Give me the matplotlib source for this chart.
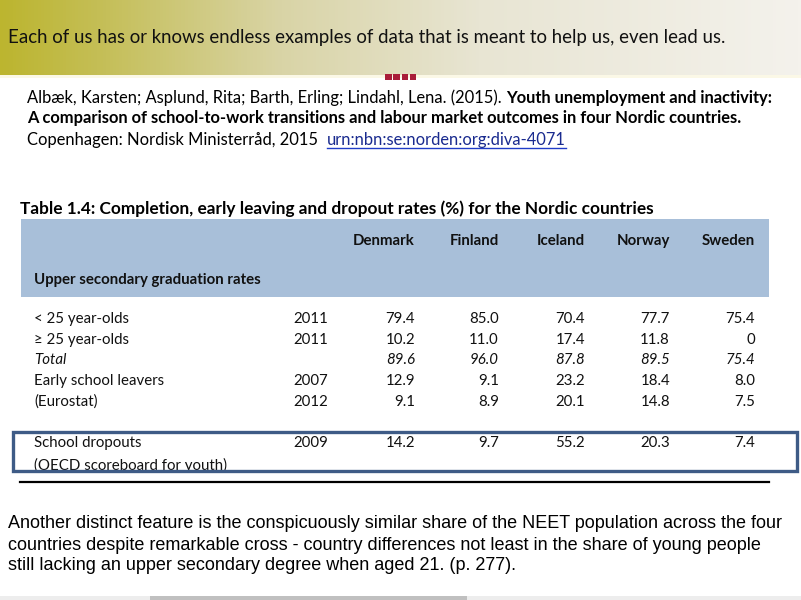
import numpy as np
import matplotlib.pyplot as plt
from matplotlib.colors import LinearSegmentedColormap
from matplotlib.patches import Rectangle

# table data
countries = ["Denmark", "Finland", "Iceland", "Norway", "Sweden"]
under_25 = [79.4, 85.0, 70.4, 77.7, 75.4]
over_25 = [10.2, 11.0, 17.4, 11.8, 0]
total = [89.6, 96.0, 87.8, 89.5, 75.4]
early_2007 = [12.9, 9.1, 23.2, 18.4, 8.0]
early_2012 = [9.1, 8.9, 20.1, 14.8, 7.5]
dropouts_2009 = [14.2, 9.7, 55.2, 20.3, 7.4]

row_labels = ["< 25 year-olds", "≥ 25 year-olds", "Total", "Early school leavers",
              "(Eurostat)", "School dropouts", "(OECD scoreboard for youth)"]
row_years = ["2011", "2011", "", "2007", "2012", "2009", ""]
row_values = [under_25, over_25, total, early_2007, early_2012, dropouts_2009, None]

headline = "Each of us has or knows endless examples of data that is meant to help us, even lead us."
cite_authors = "Albæk, Karsten; Asplund, Rita; Barth, Erling; Lindahl, Lena. (2015)."
cite_title1 = "Youth unemployment and inactivity:"
cite_title2 = "A comparison of school-to-work transitions and labour market outcomes in four Nordic countries."
cite_pub = "Copenhagen: Nordisk Ministerråd, 2015"
cite_link = "urn:nbn:se:norden:org:diva-4071"
table_title = "Table 1.4: Completion, early leaving and dropout rates (%) for the Nordic countries"
quote = ["Another distinct feature is the conspicuously similar share of the NEET population across the four",
         "countries despite remarkable cross - country differences not least in the share of young people",
         "still lacking an upper secondary degree when aged 21. (p. 277)."]

CAL = ["Lato", "DejaVu Sans"]

fig = plt.figure(figsize=(8.01, 6.0), dpi=100)
ax = fig.add_axes([0, 0, 1, 1])
ax.set_xlim(0, 801)
ax.set_ylim(600, 0)
ax.axis("off")
r = fig.canvas.get_renderer()


def put(x, y, s, width=None, **kw):
    t = ax.text(x, y, s, va="center", **kw)
    if width:
        w = t.get_window_extent(r).width
        t.set_fontsize(t.get_fontsize() * width / w)
    return t


def chain(x, y, parts, size, gap=4):
    # parts: (text, weight, color); returns list of (x0, x1)
    spans = []
    for s, weight, color in parts:
        t = ax.text(x, y, s, va="center", fontsize=size, fontweight=weight,
                    color=color, family=CAL)
        w = t.get_window_extent(r).width
        spans.append((x, x + w))
        x += w + gap
    return spans


# header band
grad = LinearSegmentedColormap.from_list(
    "hdr", [(0, "#bcb52f"), (0.12, "#c4be55"), (0.35, "#d9d4a6"),
            (0.6, "#e8e5d3"), (1, "#f4f2ec")])
ax.imshow(np.linspace(0, 1, 256)[None, :], cmap=grad, aspect="auto",
          extent=(0, 801, 75, 0), zorder=0)
put(8, 38, headline, width=714, fontsize=12, family=CAL, color="#111111")
ax.add_patch(Rectangle((0, 75), 801, 3, color="#fbf8e6", lw=0))
for i in range(4):
    ax.add_patch(Rectangle((385 + i * 8.3, 74), 6.5, 6, color="#a91d3a", lw=0))

# citation
size = 10.0
t0 = chain(27, 97, [(cite_authors, "normal", "black"), (cite_title1, "bold", "black")], size)
size = size * (773 - 27) / (t0[-1][1] - 27)
for a in ax.texts[-2:]:
    a.remove()
chain(27, 97.5, [(cite_authors, "normal", "black"), (cite_title1, "bold", "black")], size)
chain(27, 118.5, [(cite_title2, "bold", "black")], size)
sp = chain(27, 139.5, [(cite_pub, "normal", "black"), (cite_link, "normal", "#1a2b8f")], size, gap=9)
ax.plot([sp[1][0], sp[1][1]], [147.5, 147.5], color="#1f3cc8", lw=1.0)

# table
put(20, 208.5, table_title, width=630, fontsize=11, fontweight="bold", family=CAL, color="black")
ax.add_patch(Rectangle((21, 219), 748, 78, color="#a8bfd9", lw=0))
col_right = [415, 499, 585, 670, 755]
for name, xr in zip(countries, col_right):
    ax.text(xr, 241, name, ha="right", va="center", fontsize=10.8,
            fontweight="bold", family=CAL, color="#111111")
ax.text(34, 280, "Upper secondary graduation rates", va="center", fontsize=10.8,
        fontweight="bold", family=CAL, color="#111111")

row_y = [319, 340, 360.5, 381, 402, 443, 465]
clip = Rectangle((0, 300), 801, 169, transform=ax.transData)
for lab, yr, vals, y in zip(row_labels, row_years, row_values, row_y):
    style = "italic" if lab == "Total" else "normal"
    t = ax.text(34, y, lab, va="center", fontsize=10.8, style=style, family=CAL, color="#111111")
    t.set_clip_path(clip)
    if yr:
        ax.text(293, y, yr, va="center", fontsize=10.8, family=CAL, color="#111111")
    if vals is not None:
        for v, xr in zip(vals, col_right):
            s = "0" if v == 0 else f"{v:.1f}"
            ax.text(xr, y, s, ha="right", va="center", fontsize=10.8, style=style,
                    family=CAL, color="#111111")

ax.add_patch(Rectangle((13, 432), 784, 39, fill=False, edgecolor="#3e5b86", lw=2.4, zorder=5))
ax.plot([20, 769], [482, 482], color="black", lw=1.6)

# quote
QF = ["Liberation Sans Narrow", "Liberation Sans", "DejaVu Sans"]
qsize = 13.0
for i, (line, y) in enumerate(zip(quote, [523, 545, 566])):
    t = put(8, y, line, fontsize=qsize, family=QF, color="black")
    if i == 0:
        qsize = qsize * 774 / t.get_window_extent(r).width
        t.set_fontsize(qsize)

# bottom strip
ax.add_patch(Rectangle((0, 596), 801, 4, color="#ededed", lw=0))
ax.add_patch(Rectangle((150, 596), 317, 4, color="#c0c0c0", lw=0))

fig.savefig("out.png", dpi=100)
